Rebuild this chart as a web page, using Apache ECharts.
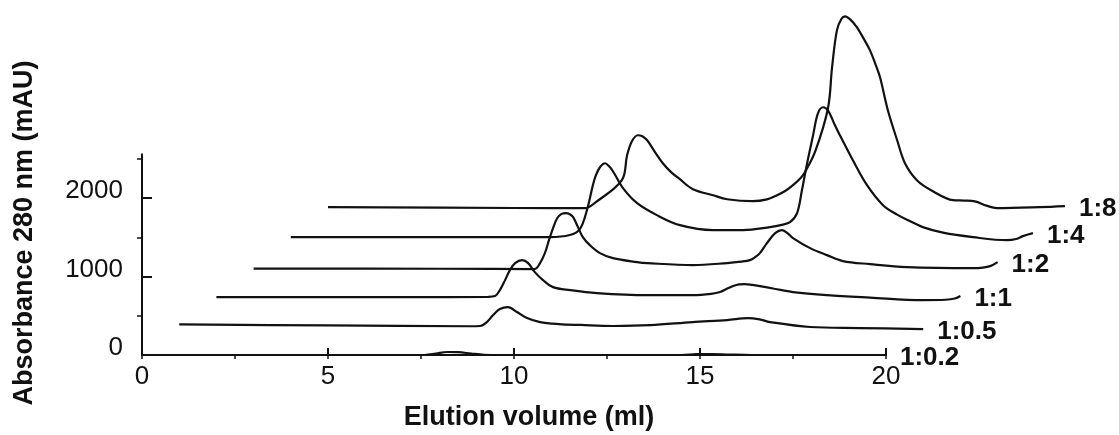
<!DOCTYPE html>
<html>
<head>
<meta charset="utf-8">
<script src="https://cdn.jsdelivr.net/npm/echarts@6/dist/echarts.min.js"></script>
<style>
html,body{margin:0;padding:0;background:#fff;}
#chart{width:1119px;height:435px;}
</style>
</head>
<body>
<div id="chart"></div>
<script>
// Series drawn from back (1:8) to front (1:0.2)
const seriesNames = ['1:8', '1:4', '1:2', '1:1', '1:0.5', '1:0.2'];
// waterfall offsets of each trace (ml, mAU)
const xOffsets = [5, 4, 3, 2, 1, 0];
const yOffsets = [1875, 1500, 1125, 750, 375, 0];

// raw chromatograms: [elution volume (ml), absorbance (mAU)]
const trace_1_8 = [[0,10],[5,0],[6.91,-2],[7.2,75],[7.9,355],[8.04,673],[8.17,851],[8.33,928],[8.45,915],[8.58,864],[8.78,720],[9.0,571],[9.23,455],[9.46,367],[9.81,240],[10.35,163],[10.73,112],[11.42,87],[11.8,110],[12.07,163],[12.3,220],[12.5,291],[12.7,380],[12.82,456],[13.1,725],[13.44,1272],[13.55,1794],[13.68,2266],[13.8,2410],[13.9,2444],[14.05,2400],[14.22,2304],[14.4,2160],[14.57,2011],[14.72,1830],[14.84,1667],[15.05,1246],[15.3,864],[15.51,571],[15.83,355],[16.26,214],[16.8,100],[17.1,95],[17.39,85],[17.7,30],[17.98,-2],[19.14,10],[19.81,23]];
const trace_1_4 = [[0,3],[5,3],[6.97,3],[7.5,30],[7.77,105],[7.96,347],[8.12,666],[8.2,790],[8.31,895],[8.45,946],[8.55,910],[8.66,844],[8.93,628],[9.31,436],[9.84,284],[10.46,156],[11.35,93],[12.16,93],[12.88,131],[13.2,160],[13.42,194],[13.61,309],[13.74,602],[13.88,946],[14.04,1303],[14.17,1583],[14.31,1660],[14.44,1621],[14.6,1460],[14.76,1303],[15.11,984],[15.49,666],[15.92,411],[16.3,290],[16.65,207],[16.99,131],[17.53,60],[18.34,3],[19.25,-35],[19.5,-20],[19.68,16],[19.95,54]];
const trace_1_2 = [[0,-23],[5,-25],[7.55,-29],[7.7,47],[7.83,174],[7.94,340],[8.05,493],[8.16,620],[8.28,675],[8.4,684],[8.5,670],[8.59,633],[8.72,506],[8.85,378],[9.04,276],[9.31,174],[9.66,111],[10.31,60],[10.58,47],[11.81,22],[12.73,47],[13.1,65],[13.34,85],[13.5,130],[13.61,174],[13.8,302],[14.02,429],[14.2,468],[14.35,430],[14.5,366],[14.96,238],[15.41,149],[15.84,73],[16.57,34],[17.56,-4],[19.34,-17],[19.6,-10],[19.8,9],[20,60]];
const trace_1_1 = [[0,-11],[5,-11],[7.3,-8],[7.49,2],[7.62,78],[7.76,205],[7.89,333],[8.03,422],[8.22,460],[8.38,422],[8.56,307],[8.78,205],[9.05,116],[9.51,78],[10.23,40],[11.58,14],[12.81,14],[13.3,30],[13.54,53],[13.75,100],[13.89,129],[14.05,150],[14.21,155],[14.4,145],[14.61,129],[15.0,95],[15.5,53],[16.41,14],[17.57,-17],[18.99,-49],[19.6,-45],[19.85,-30],[20,2]];
const trace_1_0_5 = [[0,15],[4,2],[7.8,-8],[8.09,-5],[8.27,45],[8.44,135],[8.62,211],[8.84,236],[9.08,173],[9.35,96],[9.7,45],[10.2,20],[10.8,8],[11.66,-5],[12.66,5],[13.8,45],[14.73,70],[15.29,96],[15.6,80],[15.88,45],[16.96,-18],[18.3,-31],[20,-44]];
const trace_1_0_2 = [[0,0],[7.6,0],[7.9,18],[8.2,38],[8.5,36],[8.85,18],[9.2,3],[9.6,0],[14.5,0],[14.9,10],[15.3,12],[15.8,5],[16.4,0],[20,0]];
const traces = [trace_1_8, trace_1_4, trace_1_2, trace_1_1, trace_1_0_5, trace_1_0_2];

// axis ticks
const xTickValues = [0, 5, 10, 15, 20];
const yTickValues = [0, 1000, 2000];
const yMinorTickValues = [500, 1500, 2500];

const xTitle = 'Elution volume (ml)';
const yTitle = 'Absorbance 280 nm (mAU)';

const FONT = '"Liberation Sans", Arial, Helvetica, sans-serif';
const INK = '#111';

const chart = echarts.init(document.getElementById('chart'), null, {renderer: 'canvas'});

const series = traces.map((t, i) => ({
  type: 'line',
  name: seriesNames[i],
  xAxisIndex: 2,
  yAxisIndex: 2,
  data: t.map(p => [p[0] + xOffsets[i], p[1] + yOffsets[i]]),
  smooth: 0.35,
  showSymbol: false,
  symbol: 'none',
  clip: false,
  lineStyle: {color: INK, width: 2.2},
  areaStyle: {color: '#fff', opacity: 1},
  endLabel: {
    show: true,
    formatter: seriesNames[i],
    fontFamily: FONT,
    fontWeight: 'bold',
    fontSize: 26,
    color: INK,
    distance: 14,
    offset: [0, 3]
  },
  emphasis: {disabled: true},
  silent: true
}));

const option = {
  animation: false,
  backgroundColor: '#fff',
  grid: [
    {left: 142, width: 744, bottom: 80, height: 200.7},
    {left: 142, width: 930, bottom: 80, height: 352.8}
  ],
  xAxis: [
    {
      gridIndex: 0, type: 'value', min: 0, max: 20, interval: 5, z: 10,
      axisLine: {show: true, onZero: false, lineStyle: {color: INK, width: 2}},
      axisTick: {show: true, inside: true, length: 7, lineStyle: {color: INK, width: 2}},
      axisLabel: {show: true, customValues: xTickValues, formatter: v => String(v), fontFamily: FONT, fontSize: 26, color: INK, margin: 9},
      splitLine: {show: false}
    },
    {
      gridIndex: 0, type: 'value', min: 0, max: 20, interval: 2.5, z: 10,
      axisLine: {show: false},
      axisTick: {show: true, inside: true, length: 4, lineStyle: {color: INK, width: 1.5}},
      axisLabel: {show: false},
      splitLine: {show: false}
    },
    {gridIndex: 1, type: 'value', min: 0, max: 25, show: false}
  ],
  yAxis: [
    {
      gridIndex: 0, type: 'value', min: 0, max: 2560, interval: 1000, z: 10,
      axisLine: {show: true, onZero: false, lineStyle: {color: INK, width: 2}},
      axisTick: {show: true, inside: true, length: 10, customValues: yTickValues, lineStyle: {color: INK, width: 2}},
      axisLabel: {show: true, customValues: yTickValues, formatter: v => String(v), fontFamily: FONT, fontSize: 26, color: INK, margin: 19, verticalAlign: 'bottom', lineHeight: 14},
      splitLine: {show: false}
    },
    {
      gridIndex: 0, type: 'value', min: 0, max: 2560, interval: 500, z: 10,
      axisLine: {show: false},
      axisTick: {show: true, inside: true, length: 5, customValues: yMinorTickValues, lineStyle: {color: INK, width: 1.5}},
      axisLabel: {show: false},
      splitLine: {show: false}
    },
    {gridIndex: 1, type: 'value', min: 0, max: 4500, show: false}
  ],
  graphic: [
    {
      type: 'text', x: 529, y: 418, z: 20,
      style: {text: xTitle, font: 'bold 27px ' + FONT, fill: INK, align: 'center', verticalAlign: 'middle'}
    },
    {
      type: 'text', x: 25, y: 233, rotation: Math.PI / 2, z: 20,
      style: {text: yTitle, font: 'bold 27px ' + FONT, fill: INK, align: 'center', verticalAlign: 'middle'}
    }
  ],
  series: series
};

chart.setOption(option);
</script>
</body>
</html>
